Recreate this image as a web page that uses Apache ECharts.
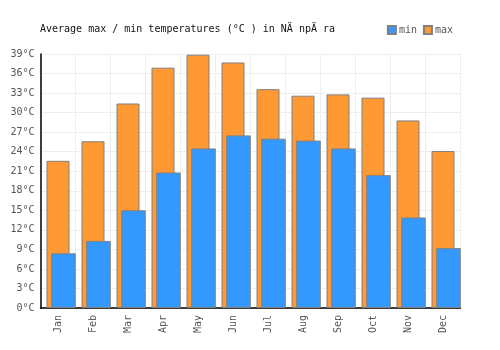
<!DOCTYPE html>
<html>
<head>
    <meta charset="utf-8">
    <title>ECharts</title>
    <script src="https://cdn.jsdelivr.net/npm/echarts@6/dist/echarts.min.js"></script>
</head>
<body style="margin:0">
    <div id="main" style="width: 500px;height:350px;"></div>
    <script type="text/javascript">
        // 月份和温度数据
        let months = ['Jan', 'Feb', 'Mar', 'Apr', 'May', 'Jun', 'Jul', 'Aug', 'Sep', 'Oct', 'Nov', 'Dec']
        let maxTemp = [22.6, 25.6, 31.4, 36.9, 38.9, 37.7, 33.6, 32.6, 32.8, 32.3, 28.8, 24.1]
        let minTemp = [8.4, 10.3, 15.0, 20.8, 24.5, 26.5, 26.0, 25.7, 24.5, 20.4, 13.9, 9.2]

        let myChart = echarts.init(document.getElementById('main'));
        let font = 'DejaVu Sans Mono'

        let option = {
            animation: false,
            title: {
                text: 'Average max / min temperatures (°C ) in NÄ npÄ ra',
                left: 35,
                top: 19,
                textStyle: { fontFamily: font, fontSize: 10, fontWeight: 'normal', color: '#111' }
            },
            legend: {
                right: 42,
                top: 20,
                itemWidth: 8,
                itemHeight: 8,
                itemGap: 6,
                icon: 'rect',
                data: ['min', 'max'],
                textStyle: { fontFamily: font, fontSize: 10, color: '#555', padding: [0, 0, 0, -2] }
            },
            // 两个grid，让蓝色柱子比橙色柱子靠右一点
            grid: [
                { left: 40.5, top: 54, width: 420, height: 254 },
                { left: 46, top: 54, width: 420, height: 254 }
            ],
            xAxis: [
                {
                    type: 'category', gridIndex: 0, data: months,
                    axisLine: { lineStyle: { color: '#000', width: 1.5 } },
                    axisTick: { show: false },
                    splitLine: { show: true, lineStyle: { color: '#eee' } },
                    axisLabel: { rotate: 90, fontFamily: font, fontSize: 10, color: '#555', margin: 7 }
                },
                { type: 'category', gridIndex: 1, data: months, show: false }
            ],
            yAxis: [
                {
                    type: 'value', gridIndex: 0, min: 0, max: 39, interval: 3,
                    axisLine: { show: true, lineStyle: { color: '#000', width: 1.5 } },
                    axisTick: { show: false },
                    splitLine: { lineStyle: { color: '#eee' } },
                    axisLabel: { formatter: '{value}°C', fontFamily: font, fontSize: 10, color: '#555', margin: 6 }
                },
                { type: 'value', gridIndex: 1, min: 0, max: 39, show: false }
            ],
            series: [
                {
                    name: 'max', type: 'bar', xAxisIndex: 0, yAxisIndex: 0,
                    barWidth: 23,
                    itemStyle: { color: '#ff9933', borderColor: '#808080', borderWidth: 1 },
                    data: maxTemp
                },
                {
                    name: 'min', type: 'bar', xAxisIndex: 1, yAxisIndex: 1,
                    barWidth: 24.5,
                    itemStyle: { color: '#3399ff', borderColor: '#808080', borderWidth: 1 },
                    data: minTemp
                }
            ]
        };

        myChart.setOption(option);
    </script>
</body>
</html>
